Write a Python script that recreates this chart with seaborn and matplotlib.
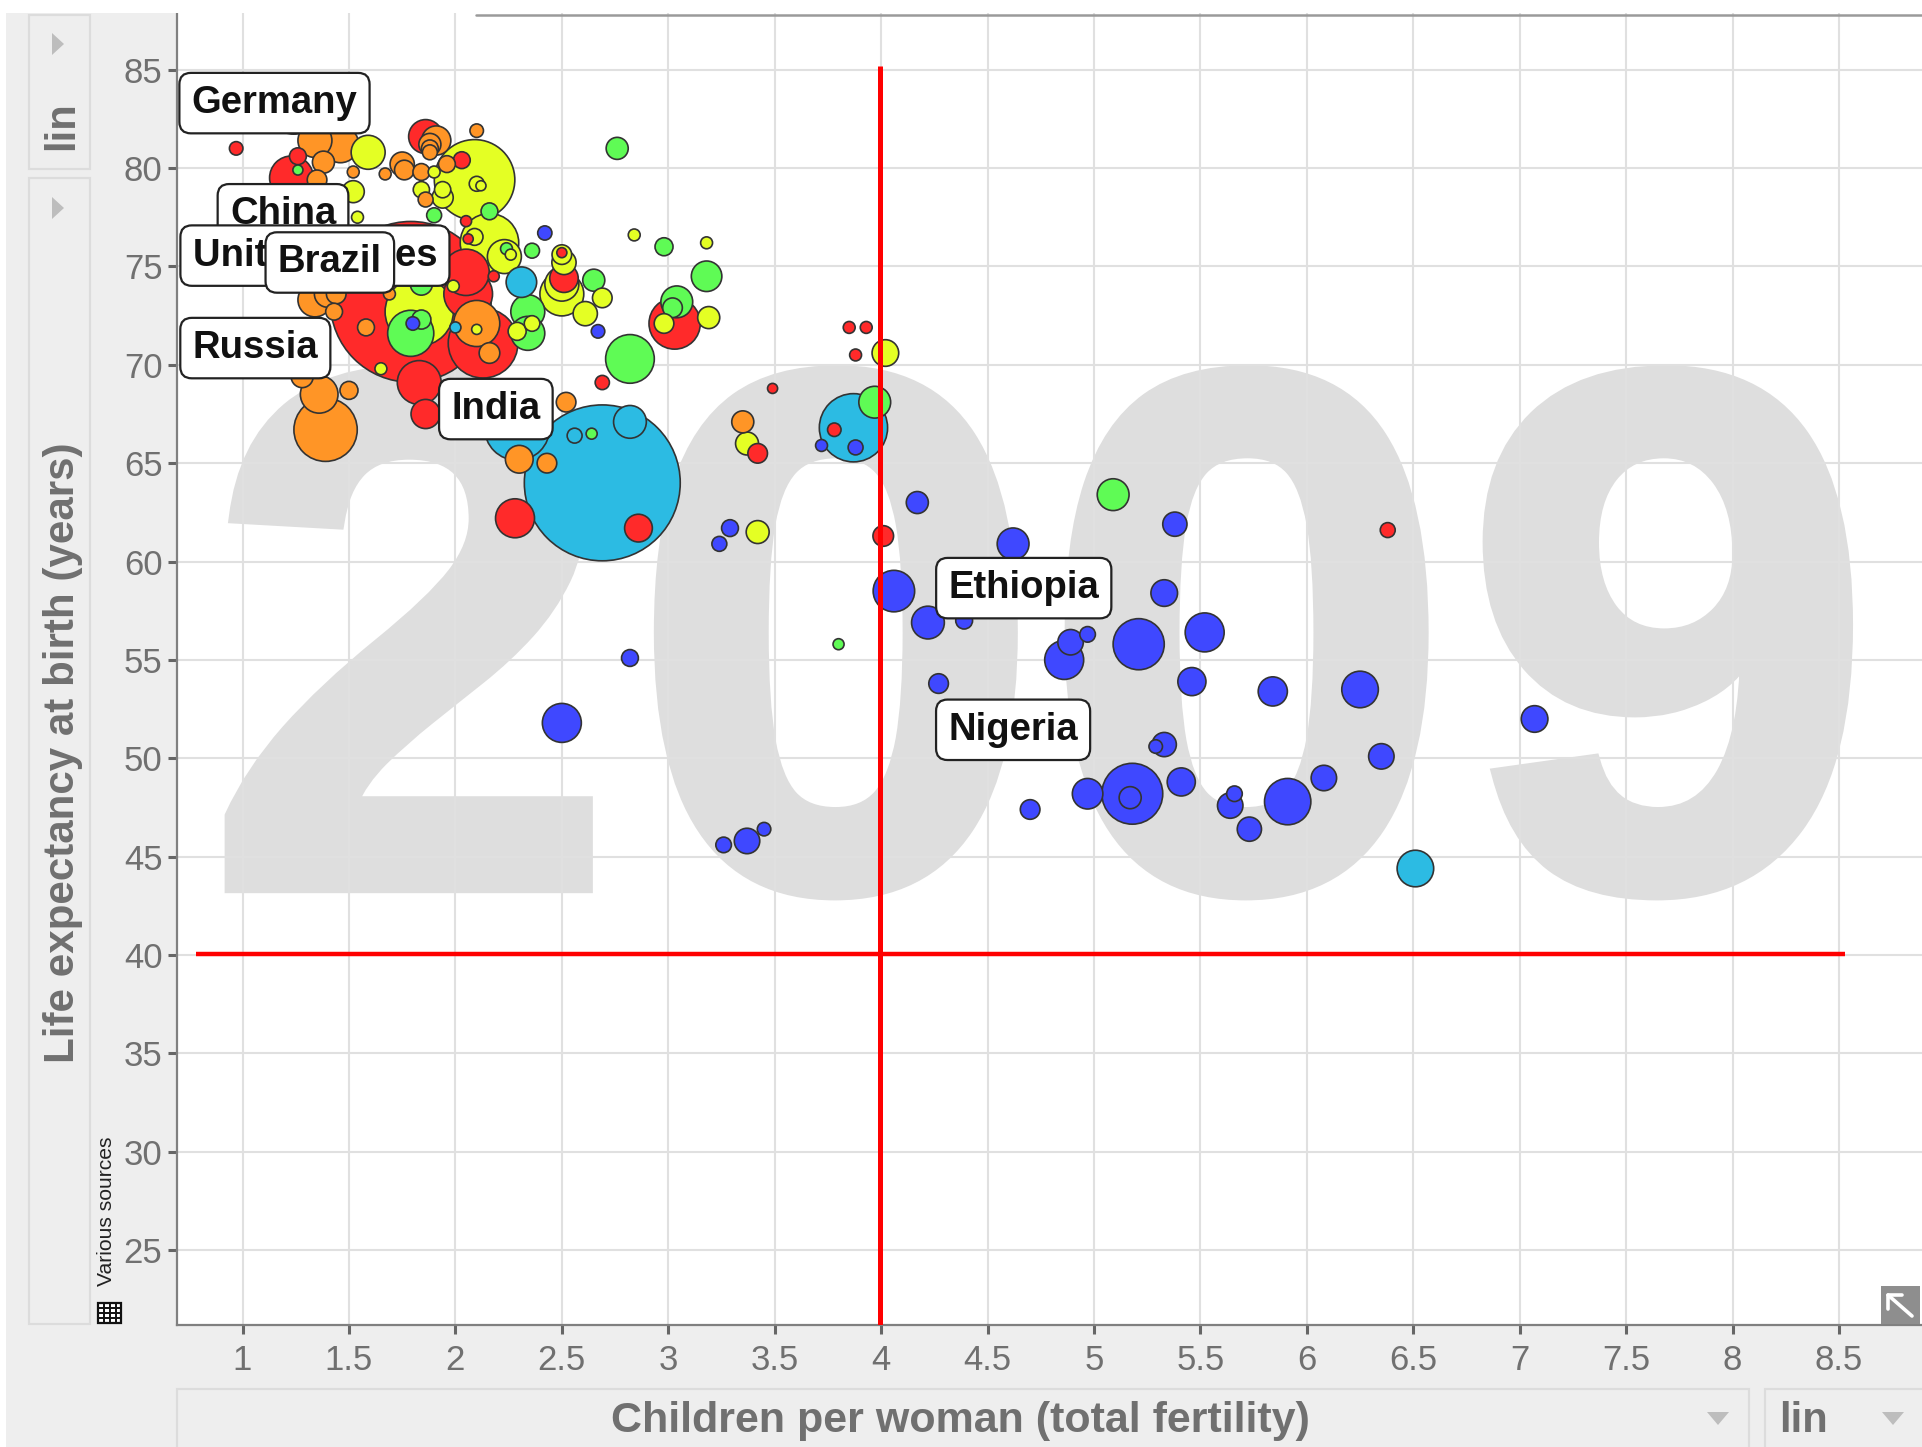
import matplotlib
matplotlib.use("Agg")
import matplotlib.pyplot as plt
import matplotlib.patheffects as pe
import seaborn as sns
import pandas as pd
from matplotlib.patches import Rectangle, Polygon
from matplotlib.lines import Line2D
from matplotlib.transforms import Affine2D

# fertility, life expectancy, population (millions) per region
east_asia_x = [1.79, 2.13, 1.83, 3.03, 1.86, 2.05, 2.06, 2.28, 2.86, 1.86, 0.97, 1.24, 1.23, 1.26, 2.03, 2.05, 2.06, 2.18, 2.51, 2.5, 2.69, 3.49, 3.42, 3.85, 3.93, 3.88, 3.78, 4.01, 6.38]
east_asia_y = [73.2, 71.1, 69.1, 72.1, 67.5, 74.7, 73.6, 62.2, 61.7, 81.6, 81.0, 82.9, 79.5, 80.6, 80.4, 77.3, 76.4, 74.5, 74.4, 75.7, 69.1, 68.8, 65.5, 71.9, 71.9, 70.5, 66.7, 61.3, 61.6]
east_asia_pop = [1276, 240, 95, 130, 42, 106, 117, 75, 38, 57, 9, 106, 95, 14, 14, 6, 5, 6, 40, 5, 10, 5, 19, 7, 7, 7, 9, 21, 11]

south_asia_x = [2.69, 3.87, 2.29, 2.82, 2.56, 2.31, 2.0, 6.51]
south_asia_y = [64.0, 66.8, 66.8, 67.1, 66.4, 74.2, 71.9, 44.4]
south_asia_pop = [1200, 230, 210, 53, 11, 46, 6, 66]

middle_east_x = [2.76, 1.79, 1.84, 1.84, 2.82, 2.34, 2.34, 2.16, 1.9, 2.36, 2.24, 2.65, 2.98, 3.18, 3.04, 3.02, 3.97, 5.09, 3.8, 1.26, 2.64]
middle_east_y = [81.0, 71.6, 72.3, 74.1, 70.3, 72.7, 71.6, 77.8, 77.6, 75.8, 75.9, 74.3, 76.0, 74.5, 73.2, 72.9, 68.1, 63.4, 55.8, 79.9, 66.5]
middle_east_pop = [24, 105, 18, 24, 117, 57, 57, 14, 11, 11, 7, 24, 16, 46, 50, 19, 50, 50, 6, 5, 6]

america_x = [2.09, 1.83, 2.16, 2.23, 1.59, 1.52, 1.54, 2.5, 2.5, 2.51, 2.5, 2.61, 2.69, 3.19, 2.98, 2.36, 2.29, 2.84, 3.18, 1.65, 2.1, 4.02, 3.37, 3.42, 1.99, 2.1, 2.12, 1.84, 1.94, 1.94, 1.9, 2.09, 2.26]
america_y = [79.4, 72.7, 76.2, 75.5, 80.8, 78.8, 77.5, 73.6, 74.1, 75.2, 75.6, 72.6, 73.4, 72.4, 72.1, 72.1, 71.7, 76.6, 76.2, 69.8, 71.8, 70.6, 66.0, 61.5, 74.0, 79.2, 79.1, 78.9, 78.9, 78.5, 79.8, 76.5, 75.6]
america_pop = [320, 230, 169, 57, 57, 24, 7, 95, 57, 29, 19, 29, 19, 24, 19, 12, 16, 7, 7, 7, 5, 35, 26, 26, 7, 11, 5, 13, 13, 22, 7, 14, 6]

europe_x = [1.39, 1.36, 1.5, 1.28, 2.1, 2.16, 1.58, 1.34, 1.4, 1.43, 1.44, 1.34, 1.46, 1.38, 1.52, 1.35, 2.1, 1.91, 1.88, 1.88, 1.88, 1.75, 1.76, 1.84, 1.96, 1.67, 1.86, 1.69, 2.52, 2.3, 2.43, 3.35]
europe_y = [66.7, 68.5, 68.7, 69.4, 72.1, 70.6, 71.9, 73.3, 73.6, 72.7, 73.6, 81.4, 81.2, 80.3, 79.8, 79.4, 81.9, 81.4, 81.2, 81.0, 80.8, 80.2, 79.9, 79.8, 80.2, 79.7, 78.4, 73.6, 68.1, 65.2, 65.0, 67.1]
europe_pop = [198, 70, 16, 24, 105, 21, 14, 57, 35, 14, 19, 57, 66, 24, 7, 19, 9, 42, 24, 14, 11, 29, 19, 14, 14, 7, 11, 7, 19, 38, 19, 24]

africa_x = [2.42, 2.67, 1.8, 3.72, 3.88, 3.29, 3.24, 4.17, 4.62, 5.38, 4.06, 4.22, 4.39, 4.51, 5.33, 5.52, 5.21, 4.86, 4.89, 4.97, 2.82, 4.27, 5.46, 5.84, 6.25, 7.07, 2.5, 5.33, 5.29, 6.35, 6.08, 5.41, 4.97, 5.18, 5.17, 4.7, 5.64, 5.66, 5.91, 5.73, 3.26, 3.37, 3.45]
africa_y = [76.7, 71.7, 72.1, 65.9, 65.8, 61.7, 60.9, 63.0, 60.9, 61.9, 58.5, 56.9, 57.0, 57.7, 58.4, 56.4, 55.8, 55.0, 55.9, 56.3, 55.1, 53.8, 53.9, 53.4, 53.5, 52.0, 51.8, 50.7, 50.6, 50.1, 49.0, 48.8, 48.2, 48.2, 48.0, 47.4, 47.6, 48.2, 47.8, 46.4, 45.6, 45.8, 46.4]
africa_pop = [10, 9, 9, 7, 11, 14, 11, 24, 50, 29, 85, 53, 14, 14, 35, 75, 129, 75, 32, 12, 14, 19, 39, 42, 66, 35, 75, 29, 9, 32, 32, 39, 46, 183, 24, 19, 32, 12, 106, 29, 12, 32, 9]

label_names = ["Germany", "China", "United States", "Brazil", "Russia", "India", "Ethiopia", "Nigeria"]
label_x = [1.15, 1.19, 1.34, 1.41, 1.06, 2.19, 4.67, 4.62]
label_y = [83.3, 77.65, 75.55, 75.2, 70.85, 67.75, 58.65, 51.45]

year_digits = ["2", "0", "0", "9"]
year_x = [1.79, 3.79, 5.72, 7.70]

x_ticks = [1, 1.5, 2, 2.5, 3, 3.5, 4, 4.5, 5, 5.5, 6, 6.5, 7, 7.5, 8, 8.5]
x_tick_labels = ["1", "1.5", "2", "2.5", "3", "3.5", "4", "4.5", "5", "5.5", "6", "6.5", "7", "7.5", "8", "8.5"]
y_ticks = [25, 30, 35, 40, 45, 50, 55, 60, 65, 70, 75, 80, 85]

palette = {
    "east_asia": "#FF2A2A",
    "south_asia": "#2CBBE3",
    "middle_east": "#5FFB55",
    "america": "#E4FF24",
    "europe": "#FF9526",
    "africa": "#3F48FF",
}

W, H = 1922, 1447
GREY_BG = "#EEEEEE"
TEXT_GREY = "#707070"
PANEL_EDGE = "#DCDCDC"
TRI_GREY = "#BDBDBD"

sns.set_style("whitegrid")
plt.rcParams["font.family"] = ["Liberation Sans", "DejaVu Sans"]

# one table, biggest bubbles first so the small ones stay on top
frames = []
for name, xs, ys, pops in [
    ("east_asia", east_asia_x, east_asia_y, east_asia_pop),
    ("south_asia", south_asia_x, south_asia_y, south_asia_pop),
    ("middle_east", middle_east_x, middle_east_y, middle_east_pop),
    ("america", america_x, america_y, america_pop),
    ("europe", europe_x, europe_y, europe_pop),
    ("africa", africa_x, africa_y, africa_pop),
]:
    frames.append(pd.DataFrame({"fertility": xs, "life": ys, "pop": pops, "region": name}))
df = pd.concat(frames).sort_values("pop", ascending=False, kind="stable").reset_index(drop=True)

fig = plt.figure(figsize=(W / 100, H / 100), dpi=100, facecolor=GREY_BG)
ax = fig.add_axes([177 / W, (H - 1325) / H, (W - 177) / W, (1325 - 13) / H])
ax.set_facecolor("white")

# big year behind everything, digit by digit, stroked for the heavier weight of the original
for digit, dx in zip(year_digits, year_x):
    t = ax.text(dx, 43.5, digit, fontsize=530, fontweight="bold", color="#DEDEDE",
                ha="center", va="baseline", zorder=0.1)
    t.set_path_effects([pe.withStroke(linewidth=10, foreground="#DEDEDE", joinstyle="miter")])

sns.scatterplot(data=df, x="fertility", y="life", hue="region", size="pop",
                palette=palette, sizes=(0, 10.5 * 1300), size_norm=(0, 1300),
                edgecolor="#333333", linewidth=1.2, alpha=1, legend=False, ax=ax, zorder=3)

ax.set_xlim(0.692, 8.89)
ax.set_ylim(21.2, 87.88)
ax.set_xticks(x_ticks)
ax.set_xticklabels(x_tick_labels)
ax.set_yticks(y_ticks)
ax.set_xlabel("")
ax.set_ylabel("")
ax.set_axisbelow(True)
ax.grid(True, color="#E0E0E0", linewidth=1.5)
ax.tick_params(axis="x", length=6.5, width=2.2, color="#666666", labelcolor=TEXT_GREY,
               labelsize=25, pad=7, bottom=True)
ax.tick_params(axis="y", length=6.5, width=2.2, color="#666666", labelcolor=TEXT_GREY,
               labelsize=25, pad=4, left=True)
for side in ["top", "right"]:
    ax.spines[side].set_visible(False)
for side in ["left", "bottom"]:
    ax.spines[side].set_color("#808080")
    ax.spines[side].set_linewidth(1.6)

# red guide lines
ax.plot([3.995, 3.995], [21.2, 85.2], color="#FF0000", linewidth=3.6, zorder=5, solid_capstyle="butt")
ax.plot([0.78, 8.53], [40.03, 40.03], color="#FF0000", linewidth=3.2, zorder=5, solid_capstyle="butt")

# country labels
for i, name in enumerate(label_names):
    ax.text(label_x[i], label_y[i], name, fontsize=27.5, fontweight="bold", color="#111111",
            ha="center", va="center", zorder=6 + i * 0.01,
            bbox=dict(boxstyle="round,pad=0.32,rounding_size=0.3", facecolor="white",
                      edgecolor="#222222", linewidth=1.6))

# widgets round the plot, placed in image pixels
px = Affine2D().scale(1 / W, -1 / H).translate(0, 1) + fig.transFigure


def add_box(x0, y0, x1, y1, face, edge="none", lw=0):
    fig.add_artist(Rectangle((x0, y0), x1 - x0, y1 - y0, transform=px, facecolor=face,
                             edgecolor=edge, linewidth=lw))


def add_tri(points, color=TRI_GREY):
    fig.add_artist(Polygon(points, closed=True, transform=px, facecolor=color, edgecolor="none"))


add_box(0, 0, 6, H, "white")
add_box(0, 0, W, 13, "white")
fig.add_artist(Line2D([476, W], [15, 15], transform=px, color="#9A9A9A", linewidth=1.8))

add_box(29, 15, 90, 169, GREY_BG, PANEL_EDGE, 1.6)
add_box(29, 178, 90, 1324, GREY_BG, PANEL_EDGE, 1.6)
add_box(177, 1389, 1749, 1452, GREY_BG, PANEL_EDGE, 1.6)
add_box(1765, 1389, 1930, 1452, GREY_BG, PANEL_EDGE, 1.6)

add_tri([(52, 33), (52, 55), (64, 44)])
add_tri([(52, 197), (52, 219), (64, 208)])
add_tri([(1707, 1412), (1729, 1412), (1718, 1425)])
add_tri([(1882, 1412), (1904, 1412), (1893, 1425)])

fig.text(62 / W, 1 - 126 / H, "lin", rotation=90, fontsize=30, fontweight="bold",
         color=TEXT_GREY, ha="center", va="center")
fig.text(63 / W, 1 - 753 / H, "Life expectancy at birth (years)", rotation=90, fontsize=30.3,
         fontweight="bold", color=TEXT_GREY, ha="center", va="center")
fig.text(960 / W, 1 - 1421 / H, "Children per woman (total fertility)", fontsize=31,
         fontweight="bold", color=TEXT_GREY, ha="center", va="center")
fig.text(1804 / W, 1 - 1421 / H, "lin", fontsize=30, fontweight="bold",
         color=TEXT_GREY, ha="center", va="center")
fig.text(107 / W, 1 - 1211 / H, "Various sources", rotation=90, fontsize=15.2,
         color="#222222", ha="center", va="center")

# small table icon
add_box(98, 1303, 121, 1323, "white", "#111111", 1.6)
for gx in [104, 110, 116]:
    fig.add_artist(Line2D([gx, gx], [1303, 1323], transform=px, color="#111111", linewidth=1.4))
for gy in [1308, 1313, 1318]:
    fig.add_artist(Line2D([98, 121], [gy, gy], transform=px, color="#111111", linewidth=1.4))

# expand icon in the corner
add_box(1881, 1286, 1920, 1324, "#8E8E8E")
fig.add_artist(Line2D([1888, 1912], [1295, 1316], transform=px, color="white", linewidth=2.6))
fig.add_artist(Line2D([1888, 1888, 1902], [1309, 1295, 1295], transform=px, color="white", linewidth=2.6))

fig.savefig("out.png", dpi=100, facecolor=fig.get_facecolor())
